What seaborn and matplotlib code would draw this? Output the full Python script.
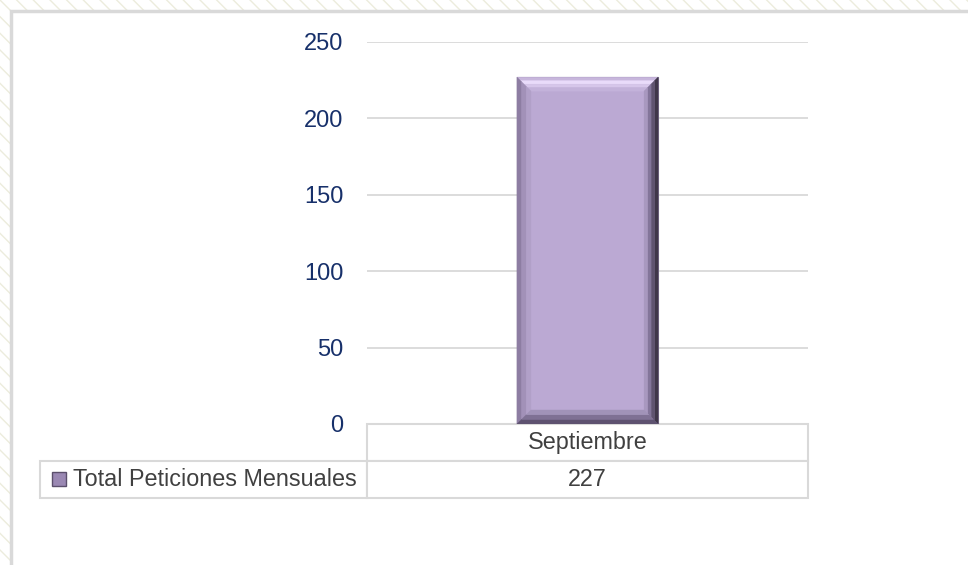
import matplotlib
matplotlib.use("Agg")
import matplotlib.pyplot as plt
from matplotlib.patches import Rectangle, Polygon
from matplotlib.table import Table
import seaborn as sns
import pandas as pd

# --- DATEN ---
meses = ["Septiembre"]
peticiones = [227]
serie = "Total Peticiones Mensuales"
yticks = [0, 50, 100, 150, 200, 250]

df = pd.DataFrame({"Mes": meses, "Peticiones": peticiones})

# --- FARBEN ---
BAR_COLOR = "#BBA9D3"
GRID_COLOR = "#D9D9D9"
TICK_COLOR = "#17306A"
TEXT_COLOR = "#404040"

sns.set_theme(style="white")
plt.rcParams["font.family"] = ["Liberation Sans", "DejaVu Sans"]

W, H = 968, 565
fig = plt.figure(figsize=(W / 100, H / 100), dpi=100)

# Hintergrund: schraffierter Rand + weisses Panel (hinter den Achsen)
fig.patches.append(Rectangle((0, 0), 1, 1, transform=fig.transFigure, facecolor="white",
                             edgecolor="#ECECDC", hatch="\\\\", lw=0, zorder=-3))
fig.patches.append(Rectangle((11 / W, -0.01), 1, 1 - 11 / H + 0.01, transform=fig.transFigure,
                             facecolor="white", edgecolor=GRID_COLOR, lw=2.5, zorder=-2))

AX_W, AX_H = 441, 382  # Achsengroesse in Pixel
ax = fig.add_axes([367 / W, 1 - 424 / H, AX_W / W, AX_H / H])
ax.patch.set_alpha(0)

sns.barplot(data=df, x="Mes", y="Peticiones", color=BAR_COLOR, saturation=1,
            width=0.32, edgecolor="#7D7090", linewidth=0.8, ax=ax, zorder=3)

ax.set_xlim(-0.5, 0.5)
ax.set_ylim(0, 250)
ax.set_yticks(yticks)
ax.set_xticks([])
ax.set_xlabel("")
ax.set_ylabel("")
ax.yaxis.grid(True, color=GRID_COLOR, lw=1.3)
ax.set_axisbelow(True)
sns.despine(ax=ax, left=True, bottom=True)
ax.tick_params(axis="y", length=0, pad=17, labelsize=17, labelcolor=TICK_COLOR)


# Abgeschraegte Kanten (Bevel) mit kleinem Farbverlauf, aussen -> innen
def bevel_side(ax, a, b, a_in, b_in, colors):
    n = len(colors)
    lerp = lambda p, q, t: (p[0] + (q[0] - p[0]) * t, p[1] + (q[1] - p[1]) * t)
    for k, c in enumerate(colors):
        t0, t1 = k / n, (k + 1) / n
        pts = [lerp(a, a_in, t0), lerp(b, b_in, t0), lerp(b, b_in, t1), lerp(a, a_in, t1)]
        ax.add_patch(Polygon(pts, closed=True, facecolor=c, edgecolor=c, lw=0.3, zorder=4))


bev_px = 14
dx = bev_px / AX_W * 1.0
dy = bev_px / AX_H * 250
for p in list(ax.patches):
    x0, y0 = p.get_x(), p.get_y()
    x1, y1 = x0 + p.get_width(), y0 + p.get_height()
    tl, tr, bl, br = (x0, y1), (x1, y1), (x0, y0), (x1, y0)
    itl, itr = (x0 + dx, y1 - dy), (x1 - dx, y1 - dy)
    ibl, ibr = (x0 + dx, y0 + dy), (x1 - dx, y0 + dy)
    bevel_side(ax, tl, tr, itl, itr, ["#C7B6DC", "#E9DBFA", "#D6C6EA", "#C3B2DA"])
    bevel_side(ax, bl, tl, ibl, itl, ["#8D7DA2", "#A291B8", "#B1A0C8"])
    bevel_side(ax, br, tr, ibr, itr, ["#3F3649", "#5F536F", "#83759A", "#A898BF"])
    bevel_side(ax, bl, br, ibl, ibr, ["#5E5270", "#7F7194", "#A193B8"])

# Datentabelle unter der Achse (Breiten in Achsen-Einheiten)
row_h = 37 / AX_H
tab = Table(ax, bbox=[0, -2 * row_h, 1, 2 * row_h])
for i, mes in enumerate(meses):
    col_w = 1.0 / len(meses)
    tab.add_cell(0, i, width=col_w, height=row_h, text=mes, loc="center")
    tab.add_cell(1, i, width=col_w, height=row_h, text=str(peticiones[i]), loc="center")
tab.add_cell(1, -1, width=327 / AX_W, height=row_h, text=serie, loc="left")
tab.auto_set_font_size(False)
tab.set_fontsize(16.8)
for cell in tab.get_celld().values():
    cell.set_edgecolor(GRID_COLOR)
    cell.set_linewidth(1.5)
    cell.get_text().set_color(TEXT_COLOR)
ax.add_table(tab)

# Legendensymbol in der Tabellenzeile
ax.add_patch(Rectangle(((52 - 367) / AX_W, (424 - 486) / AX_H), 14 / AX_W, 14 / AX_H,
                       transform=ax.transAxes, clip_on=False, facecolor="#9A88B3",
                       edgecolor="#5B4F6C", lw=1.0, zorder=5))

fig.savefig("out.png", dpi=100)
